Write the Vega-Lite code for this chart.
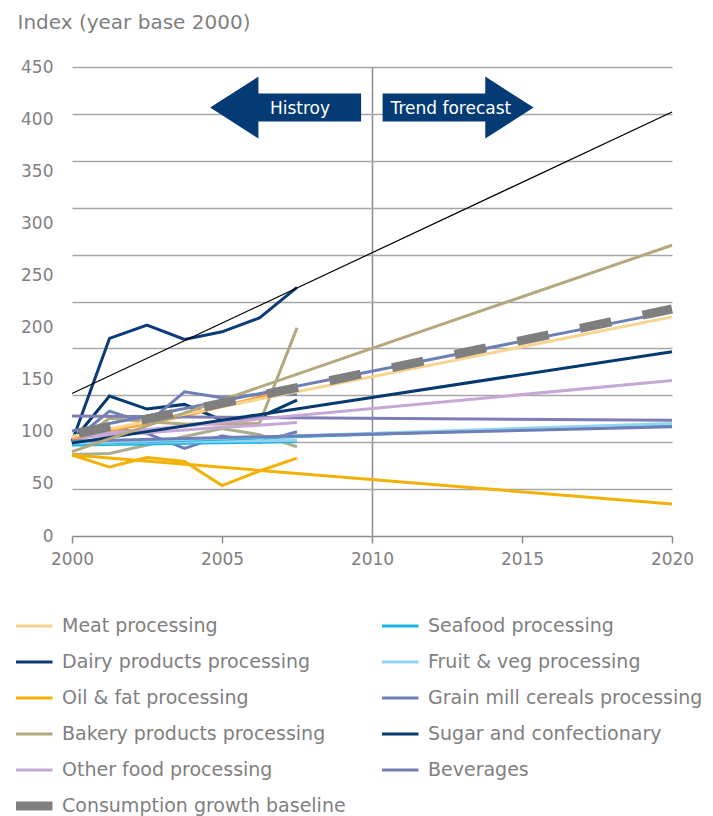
{
  "$schema": "https://vega.github.io/schema/vega-lite/v6.json",
  "width": 600,
  "height": 469,
  "autosize": {"type": "none"},
  "padding": {"left": 72, "top": 67, "right": 41, "bottom": 280},
  "background": "white",
  "config": {
    "font": "DejaVu Sans",
    "view": {"stroke": null},
    "axis": {"labelFont": "DejaVu Sans", "labelColor": "#7f7f7f", "labelFontSize": 17, "titleFont": "DejaVu Sans"},
    "legend": {"padding": 0}
  },
  "datasets": {
    "lines": [
      {"series": "Dairy products processing", "part": "history", "year": 2000, "value": 100.5},
      {"series": "Dairy products processing", "part": "history", "year": 2001.25, "value": 210.6},
      {"series": "Dairy products processing", "part": "history", "year": 2002.5, "value": 224.8},
      {"series": "Dairy products processing", "part": "history", "year": 2003.75, "value": 209.6},
      {"series": "Dairy products processing", "part": "history", "year": 2005, "value": 217.7},
      {"series": "Dairy products processing", "part": "history", "year": 2006.25, "value": 232.6},
      {"series": "Dairy products processing", "part": "history", "year": 2007.5, "value": 265.0},
      {"series": "Sugar and confectionary", "part": "history", "year": 2000, "value": 100.5},
      {"series": "Sugar and confectionary", "part": "history", "year": 2001.25, "value": 149.2},
      {"series": "Sugar and confectionary", "part": "history", "year": 2002.5, "value": 135.3},
      {"series": "Sugar and confectionary", "part": "history", "year": 2003.75, "value": 140.3},
      {"series": "Sugar and confectionary", "part": "history", "year": 2005, "value": 123.5},
      {"series": "Sugar and confectionary", "part": "history", "year": 2006.25, "value": 126.7},
      {"series": "Sugar and confectionary", "part": "history", "year": 2007.5, "value": 144.9},
      {"series": "Grain mill cereals processing", "part": "history", "year": 2000, "value": 100.5},
      {"series": "Grain mill cereals processing", "part": "history", "year": 2001.25, "value": 133.2},
      {"series": "Grain mill cereals processing", "part": "history", "year": 2002.5, "value": 120.1},
      {"series": "Grain mill cereals processing", "part": "history", "year": 2003.75, "value": 153.7},
      {"series": "Grain mill cereals processing", "part": "history", "year": 2005, "value": 147.3},
      {"series": "Grain mill cereals processing", "part": "history", "year": 2006.25, "value": 151.0},
      {"series": "Grain mill cereals processing", "part": "history", "year": 2007.5, "value": 151.0},
      {"series": "Beverages", "part": "history", "year": 2000, "value": 100.5},
      {"series": "Beverages", "part": "history", "year": 2001.25, "value": 115.1},
      {"series": "Beverages", "part": "history", "year": 2002.5, "value": 109.4},
      {"series": "Beverages", "part": "history", "year": 2003.75, "value": 93.4},
      {"series": "Beverages", "part": "history", "year": 2005, "value": 106.9},
      {"series": "Beverages", "part": "history", "year": 2006.25, "value": 99.9},
      {"series": "Beverages", "part": "history", "year": 2007.5, "value": 111.2},
      {"series": "Bakery products processing", "part": "history", "year": 2000, "value": 97.0},
      {"series": "Bakery products processing", "part": "history", "year": 2001.25, "value": 125.4},
      {"series": "Bakery products processing", "part": "history", "year": 2002.5, "value": 121.8},
      {"series": "Bakery products processing", "part": "history", "year": 2003.75, "value": 119.3},
      {"series": "Bakery products processing", "part": "history", "year": 2005, "value": 119.3},
      {"series": "Bakery products processing", "part": "history", "year": 2006.25, "value": 120.1},
      {"series": "Bakery products processing", "part": "history", "year": 2007.5, "value": 221.9},
      {"series": "Other series – history", "part": "history", "year": 2000, "value": 87.0},
      {"series": "Other series – history", "part": "history", "year": 2001.25, "value": 88.0},
      {"series": "Other series – history", "part": "history", "year": 2002.5, "value": 97.0},
      {"series": "Other series – history", "part": "history", "year": 2003.75, "value": 106.0},
      {"series": "Other series – history", "part": "history", "year": 2005, "value": 114.7},
      {"series": "Other series – history", "part": "history", "year": 2006.25, "value": 108.0},
      {"series": "Other series – history", "part": "history", "year": 2007.5, "value": 95.1},
      {"series": "Oil & fat processing", "part": "history", "year": 2000, "value": 86.3},
      {"series": "Oil & fat processing", "part": "history", "year": 2001.25, "value": 73.5},
      {"series": "Oil & fat processing", "part": "history", "year": 2002.5, "value": 83.6},
      {"series": "Oil & fat processing", "part": "history", "year": 2003.75, "value": 79.4},
      {"series": "Oil & fat processing", "part": "history", "year": 2005, "value": 53.8},
      {"series": "Oil & fat processing", "part": "history", "year": 2006.25, "value": 69.3},
      {"series": "Oil & fat processing", "part": "history", "year": 2007.5, "value": 83.1},
      {"series": "Other food processing", "part": "history", "year": 2000, "value": 104},
      {"series": "Other food processing", "part": "history", "year": 2001.25, "value": 108},
      {"series": "Other food processing", "part": "history", "year": 2002.5, "value": 110},
      {"series": "Other food processing", "part": "history", "year": 2003.75, "value": 113},
      {"series": "Other food processing", "part": "history", "year": 2005, "value": 116},
      {"series": "Other food processing", "part": "history", "year": 2006.25, "value": 118},
      {"series": "Other food processing", "part": "history", "year": 2007.5, "value": 121},
      {"series": "Meat processing – history", "part": "history", "year": 2000, "value": 104},
      {"series": "Meat processing – history", "part": "history", "year": 2001.25, "value": 112},
      {"series": "Meat processing – history", "part": "history", "year": 2002.5, "value": 120},
      {"series": "Meat processing – history", "part": "history", "year": 2003.75, "value": 128},
      {"series": "Meat processing – history", "part": "history", "year": 2005, "value": 138},
      {"series": "Meat processing – history", "part": "history", "year": 2006.25, "value": 148},
      {"series": "Meat processing – history", "part": "history", "year": 2007.5, "value": 159},
      {"series": "Seafood processing", "part": "history", "year": 2000, "value": 97},
      {"series": "Seafood processing", "part": "history", "year": 2001.25, "value": 97.5},
      {"series": "Seafood processing", "part": "history", "year": 2002.5, "value": 98},
      {"series": "Seafood processing", "part": "history", "year": 2003.75, "value": 99},
      {"series": "Seafood processing", "part": "history", "year": 2005, "value": 99.5},
      {"series": "Seafood processing", "part": "history", "year": 2006.25, "value": 100},
      {"series": "Seafood processing", "part": "history", "year": 2007.5, "value": 101},
      {"series": "Fruit & veg processing", "part": "history", "year": 2000, "value": 99},
      {"series": "Fruit & veg processing", "part": "history", "year": 2001.25, "value": 99},
      {"series": "Fruit & veg processing", "part": "history", "year": 2002.5, "value": 100},
      {"series": "Fruit & veg processing", "part": "history", "year": 2003.75, "value": 100.5},
      {"series": "Fruit & veg processing", "part": "history", "year": 2005, "value": 101},
      {"series": "Fruit & veg processing", "part": "history", "year": 2006.25, "value": 101.5},
      {"series": "Fruit & veg processing", "part": "history", "year": 2007.5, "value": 102},
      {"series": "Seafood processing", "part": "trend", "year": 2000, "value": 98},
      {"series": "Seafood processing", "part": "trend", "year": 2020, "value": 119},
      {"series": "Fruit & veg processing", "part": "trend", "year": 2000, "value": 99},
      {"series": "Fruit & veg processing", "part": "trend", "year": 2020, "value": 120},
      {"series": "Beverages", "part": "trend", "year": 2000, "value": 101},
      {"series": "Beverages", "part": "trend", "year": 2020, "value": 116.4},
      {"series": "Other series – trend", "part": "trend", "year": 2000, "value": 127.8},
      {"series": "Other series – trend", "part": "trend", "year": 2020, "value": 123.3},
      {"series": "Oil & fat processing", "part": "trend", "year": 2000, "value": 86.3},
      {"series": "Oil & fat processing", "part": "trend", "year": 2020, "value": 34.1},
      {"series": "Other food processing", "part": "trend", "year": 2000, "value": 106},
      {"series": "Other food processing", "part": "trend", "year": 2020, "value": 165.7},
      {"series": "Sugar and confectionary", "part": "trend", "year": 2000, "value": 99},
      {"series": "Sugar and confectionary", "part": "trend", "year": 2020, "value": 196.5},
      {"series": "Meat processing", "part": "trend", "year": 2000, "value": 106},
      {"series": "Meat processing", "part": "trend", "year": 2020, "value": 233.6},
      {"series": "Grain mill cereals processing", "part": "trend", "year": 2000, "value": 112},
      {"series": "Grain mill cereals processing", "part": "trend", "year": 2020, "value": 239.5},
      {"series": "Bakery products processing", "part": "trend", "year": 2000, "value": 90},
      {"series": "Bakery products processing", "part": "trend", "year": 2020, "value": 310},
      {"series": "Consumption growth baseline", "part": "trend", "year": 2000, "value": 108},
      {"series": "Consumption growth baseline", "part": "trend", "year": 2020, "value": 242},
      {"series": "Dairy products processing – trend", "part": "trend", "year": 2000, "value": 151.9},
      {"series": "Dairy products processing – trend", "part": "trend", "year": 2020, "value": 452}
    ],
    "notes": [
      {"kind": "arrow", "dir": "left", "year": 2007.12, "value": 411.1},
      {"kind": "arrow", "dir": "right", "year": 2012.87, "value": 411.1},
      {"kind": "text", "label": "Histroy", "year": 2007.6, "value": 409.7},
      {"kind": "text", "label": "Trend forecast", "year": 2012.63, "value": 409.7}
    ]
  },
  "encoding": {
    "x": {
      "field": "year",
      "type": "quantitative",
      "scale": {"domain": [2000, 2020], "nice": false, "zero": false},
      "axis": {
        "values": [2000, 2005, 2010, 2015, 2020],
        "format": "d",
        "title": null,
        "domainColor": "#8c8c8c",
        "domainWidth": 1.5,
        "tickColor": "#8c8c8c",
        "tickWidth": 1.5,
        "tickSize": 7,
        "labelPadding": 8,
        "labelFontSize": 17,
        "labelColor": "#7f7f7f",
        "labelFlush": false,
        "grid": true,
        "gridColor": "#8c8c8c",
        "gridWidth": 1.5,
        "gridOpacity": {"condition": {"test": "datum.value === 2010", "value": 1}, "value": 0}
      }
    }
  },
  "layer": [
    {
      "data": {"name": "lines"},
      "encoding": {
        "y": {
          "field": "value",
          "type": "quantitative",
          "scale": {"domain": [0, 500], "nice": false},
          "axis": {
            "orient": "right",
            "values": [50, 100, 150, 200, 250, 300, 350, 400, 450, 500],
            "labels": false,
            "ticks": false,
            "domain": false,
            "grid": true,
            "gridColor": "#a6a6a6",
            "gridWidth": 1.5,
            "title": null
          }
        },
        "color": {
          "field": "series",
          "type": "nominal",
          "scale": {
            "domain": ["Meat processing", "Seafood processing", "Dairy products processing", "Fruit & veg processing", "Oil & fat processing", "Grain mill cereals processing", "Bakery products processing", "Sugar and confectionary", "Other food processing", "Beverages", "Consumption growth baseline", "Dairy products processing – trend", "Meat processing – history", "Other series – history", "Other series – trend"],
            "range": ["#F9D48F", "#1CB3E3", "#0D3B7A", "#93D4F0", "#F2B104", "#6E7FB5", "#B3A87E", "#063A6E", "#C7A7D5", "#6F7EB6", "#7F7F7F", "#000000", "#F5A43C", "#A9AF8D", "#7E7DB5"]
          },
          "legend": {
            "title": null,
            "orient": "none",
            "legendX": -56,
            "legendY": 541,
            "columns": 2,
            "columnPadding": 36,
            "rowPadding": 0,
            "values": ["Meat processing", "Dairy products processing", "Oil & fat processing", "Bakery products processing", "Other food processing", "Consumption growth baseline", "Seafood processing", "Fruit & veg processing", "Grain mill cereals processing", "Sugar and confectionary", "Beverages"],
            "symbolType": "stroke",
            "symbolSize": 2916,
            "symbolStrokeWidth": 3,
            "labelFont": "DejaVu Sans",
            "labelFontSize": 19,
            "labelColor": "#7f7f7f",
            "labelOffset": 27,
            "labelLimit": 400,
            "clipHeight": 36,
            "encode": {"symbols": {"update": {"size": {"value": 2916}, "strokeWidth": {"signal": "datum.value === 'Consumption growth baseline' ? 9 : 3"}}}}
          }
        },
        "detail": {"field": "part", "type": "nominal"}
      },
      "layer": [
        {
          "transform": [{"filter": "datum.series !== 'Consumption growth baseline' && datum.series !== 'Dairy products processing – trend'"}],
          "mark": {"type": "line", "strokeWidth": 3}
        },
        {
          "transform": [{"filter": "datum.series === 'Consumption growth baseline'"}],
          "mark": {"type": "line", "strokeWidth": 9, "strokeDash": [32, 32], "strokeDashOffset": 57, "strokeCap": "butt"}
        },
        {
          "transform": [{"filter": "datum.series === 'Dairy products processing – trend'"}],
          "mark": {"type": "line", "strokeWidth": 1.2}
        }
      ]
    },
    {
      "data": {"name": "notes"},
      "encoding": {
        "y": {
          "field": "value",
          "type": "quantitative",
          "scale": {"domain": [0, 450], "nice": false},
          "axis": {
            "orient": "left",
            "values": [0, 50, 100, 150, 200, 250, 300, 350, 400, 450],
            "grid": false,
            "ticks": false,
            "tickSize": 0,
            "domain": false,
            "labelPadding": 19,
            "labelFontSize": 17,
            "labelColor": "#7f7f7f",
            "title": "Index (year base 2000)",
            "titleAngle": 0,
            "titleAlign": "left",
            "titleBaseline": "middle",
            "titleX": -55,
            "titleY": -45,
            "titleFontSize": 20,
            "titleFontWeight": "normal",
            "titleColor": "#7f7f7f"
          }
        }
      },
      "layer": [
        {
          "transform": [{"filter": "datum.kind === 'arrow'"}],
          "mark": {"type": "point", "filled": true, "opacity": 1, "color": "#053B74", "strokeWidth": 0},
          "encoding": {
            "shape": {
              "field": "dir",
              "type": "nominal",
              "scale": {
                "domain": ["left", "right"],
                "range": [
                  "M -1 0 L -0.36 -0.41 L -0.36 -0.185 L 1 -0.185 L 1 0.185 L -0.36 0.185 L -0.36 0.41 Z",
                  "M 1 0 L 0.36 -0.41 L 0.36 -0.185 L -1 -0.185 L -1 0.185 L 0.36 0.185 L 0.36 0.41 Z"
                ]
              },
              "legend": null
            },
            "size": {"value": 22801}
          }
        },
        {
          "transform": [{"filter": "datum.kind === 'text'"}],
          "mark": {"type": "text", "color": "white", "fontSize": 17, "font": "DejaVu Sans", "baseline": "middle", "align": "center"},
          "encoding": {"text": {"field": "label", "type": "nominal"}}
        }
      ]
    }
  ],
  "resolve": {"scale": {"y": "independent"}}
}
